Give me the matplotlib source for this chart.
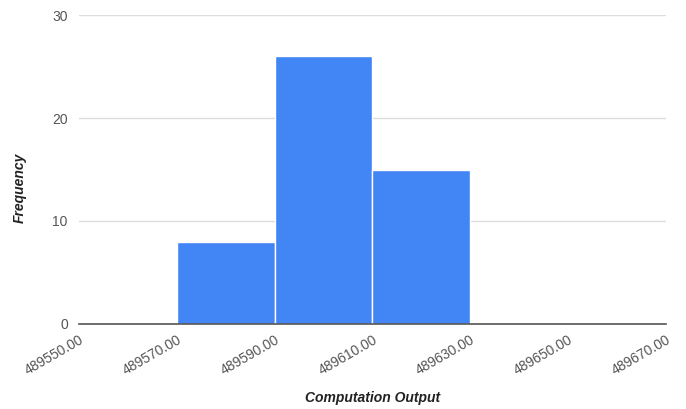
import matplotlib
matplotlib.use("Agg")
import matplotlib.pyplot as plt

plt.rcParams['font.family'] = ['Liberation Sans', 'DejaVu Sans']

bin_edges = [489570, 489590, 489610, 489630]
counts = [8, 26, 15]
x_ticks = [489550, 489570, 489590, 489610, 489630, 489650, 489670]
y_ticks = [0, 10, 20, 30]

fig = plt.figure(figsize=(6.86, 4.09), dpi=100)
ax = fig.add_axes([0.115, 0.208, 0.856, 0.755])

lefts = bin_edges[:-1]
widths = [b - a for a, b in zip(bin_edges[:-1], bin_edges[1:])]
ax.bar(lefts, counts, width=widths, align='edge', color='#4285F4',
       edgecolor='white', linewidth=1, zorder=3)

ax.set_xlim(x_ticks[0], x_ticks[-1])
ax.set_ylim(0, 30)
ax.set_xticks(x_ticks)
ax.set_xticklabels([f"{v:.2f}" for v in x_ticks], rotation=30, ha='right',
                   rotation_mode='anchor', color='#555555', fontsize=10)
ax.set_yticks(y_ticks)
ax.set_yticklabels([str(v) for v in y_ticks], color='#555555', fontsize=10)
ax.tick_params(axis='both', length=0, pad=8)
ax.tick_params(axis='x', pad=6)

ax.grid(axis='y', color='#dddddd', linewidth=1, zorder=0)
for s in ['top', 'right', 'left']:
    ax.spines[s].set_visible(False)
ax.spines['bottom'].set_color('#555555')
ax.spines['bottom'].set_linewidth(1.2)
ax.spines['bottom'].set_zorder(4)

ax.set_xlabel("Computation Output", fontstyle='italic', fontweight='bold',
              fontsize=10, color='#222222', labelpad=10)
ax.set_ylabel("Frequency", fontstyle='italic', fontweight='bold',
              fontsize=10, color='#222222')
ax.yaxis.set_label_coords(-0.088, 0.44)

fig.savefig("out.png", dpi=100)
